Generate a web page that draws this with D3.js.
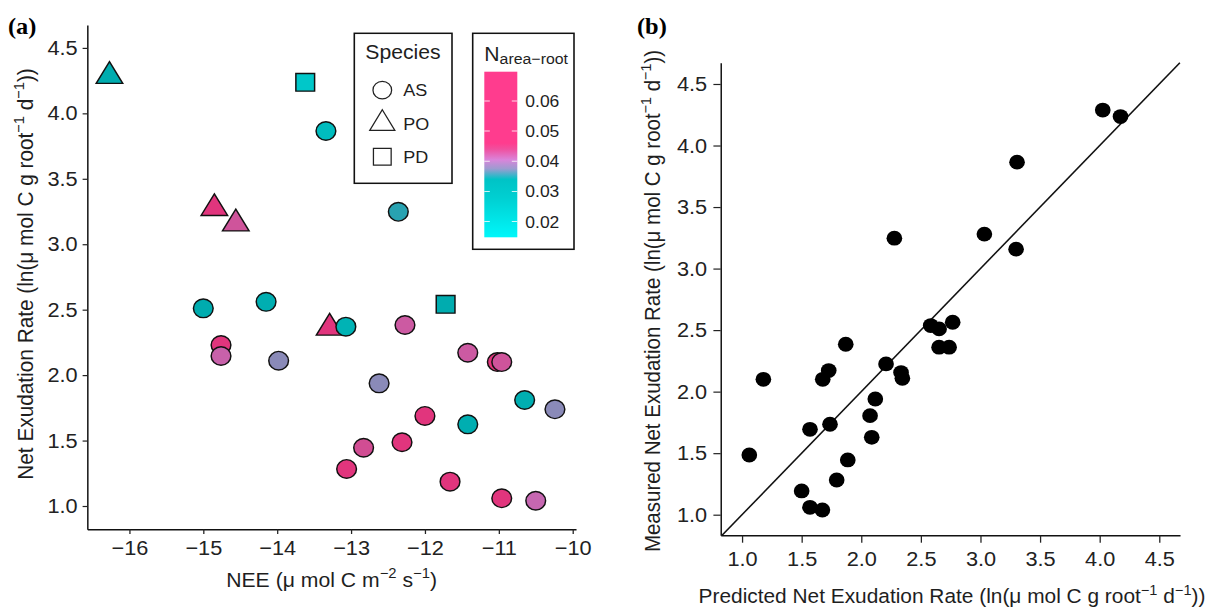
<!DOCTYPE html>
<html>
<head>
<meta charset="utf-8">
<script src="https://cdn.jsdelivr.net/npm/d3@7"></script>
<style>
  body { margin: 0; background: #fff; }
  svg text { font-family: "Liberation Sans", Arial, sans-serif; fill: #1e1e1e; }
</style>
</head>
<body>
<svg id="fig" width="1215" height="611"></svg>
<script>
// ---- panel (a) data : NEE vs net exudation, shape = species, fill = N area-root
const speciesA = ['PO','PO','PO','PO','PD','PD',
  'AS','AS','AS','AS','AS','AS','AS','AS','AS','AS','AS','AS','AS','AS','AS','AS','AS','AS','AS','AS','AS','AS','AS'];
const neeA = [-16.27, -14.85, -14.56, -13.29, -13.62, -11.72,
  -13.34, -12.36, -15.0, -14.15, -14.76, -14.76, -13.98, -13.07, -12.27, -11.42, -11.02, -10.96,
  -12.62, -10.65, -10.24, -12.0, -11.42, -12.83, -12.31, -13.06, -11.66, -10.96, -10.5];
const exudA = [4.284, 3.275, 3.157, 2.361, 4.237, 2.541,
  3.865, 3.248, 2.51, 2.56, 2.23, 2.146, 2.11, 2.37, 2.383, 2.171, 2.10, 2.10,
  1.937, 1.81, 1.739, 1.688, 1.624, 1.445, 1.487, 1.283, 1.186, 1.059, 1.04];
const nAreaRoot = [0.034, 0.055, 0.043, 0.058, 0.022, 0.034,
  0.026, 0.035, 0.034, 0.033, 0.052, 0.042, 0.0375, 0.030, 0.0425, 0.0425, 0.060, 0.043,
  0.0375, 0.033, 0.0375, 0.058, 0.033, 0.0435, 0.060, 0.062, 0.060, 0.058, 0.0415];

const speciesLevels = ['AS', 'PO', 'PD'];
const nTicks = [0.02, 0.03, 0.04, 0.05, 0.06];
const nRange = [0.0148, 0.0697];
const xTicksA = [-16, -15, -14, -13, -12, -11, -10];
const yTicks = [1.0, 1.5, 2.0, 2.5, 3.0, 3.5, 4.0, 4.5];

// ---- panel (b) data : predicted vs measured
const predicted = [1.061, 1.179, 1.57, 1.50, 1.57, 1.674, 1.677, 1.727, 1.738, 1.794, 1.87, 1.887,
  2.074, 2.088, 2.118, 2.208, 2.334, 2.345, 2.583, 2.653, 2.767, 2.653, 2.737,
  2.278, 3.033, 3.299, 3.307, 4.026, 4.175];
const measured = [1.485, 2.10, 1.694, 1.193, 1.06, 1.038, 2.10, 2.171, 1.735, 1.282, 2.385, 1.445,
  1.805, 1.629, 1.94, 2.225, 2.155, 2.109, 2.537, 2.51, 2.564, 2.361, 2.361,
  3.247, 3.28, 3.158, 3.865, 4.288, 4.235];
const xTicksB = [1.0, 1.5, 2.0, 2.5, 3.0, 3.5, 4.0, 4.5];

// colour ramp of the N legend
const rampValues = [0.0148, 0.028, 0.034, 0.0375, 0.0405, 0.044, 0.046, 0.0697];
const rampColours = ['#00f7fa', '#00cfd1', '#00c3c6', '#9c9cd0', '#da84da', '#f0509f', '#ff3c8e', '#ff3c8e'];
const nColour = d3.scaleLinear().domain(rampValues).range(rampColours).interpolate(d3.interpolateRgb);

// the figure is slightly wider than tall, stretch everything horizontally
const K = 1.06;
const px = v => v / K;

const svg = d3.select('#fig');
const g = svg.append('g').attr('transform', 'scale(' + K + ',1)');

function richText(sel, parts, size) {
  var shift = 0;
  parts.forEach(p => {
    var t = sel.append('tspan').text(p.t);
    if (p.sup) {
      t.attr('font-size', size * 0.7).attr('dy', -size * 0.42 - shift);
      shift = -size * 0.42;
    } else {
      t.attr('font-size', size).attr('dy', -shift);
      shift = 0;
    }
  });
}

const ylabParts = [{t: 'ln(μ mol C g root'}, {t: '−1', sup: true}, {t: ' d'}, {t: '−1', sup: true}, {t: '))'}];

// ================= panel (a) =================
const xA = d3.scaleLinear().domain([-16.57, -9.955]).range([px(87.3), px(576)]);
const yA = d3.scaleLinear().domain([0.822, 4.675]).range([529.3, 25]);

g.append('g')
  .attr('class', 'axis')
  .attr('transform', 'translate(0,529.3)')
  .call(d3.axisBottom(xA).tickValues(xTicksA).tickSize(4.7).tickSizeOuter(0).tickPadding(6.5).tickFormat(d3.format('d')));

g.append('g')
  .attr('class', 'axis')
  .attr('transform', 'translate(' + px(87.3) + ',0)')
  .call(d3.axisLeft(yA).tickValues(yTicks).tickSize(px(4.7)).tickSizeOuter(0).tickPadding(px(5)).tickFormat(d3.format('.1f')));

const ptsA = neeA.map((v, i) => ({x: v, y: exudA[i], s: speciesA[i], n: nAreaRoot[i]}));
const R = 9.3;
const triPath = r => {
  const top = r * 1.555, half = r * 1.347, bot = r * 0.7776;
  return 'M0,' + (-top) + 'L' + half + ',' + bot + 'L' + (-half) + ',' + bot + 'Z';
};
const shapePath = (s, r) => {
  if (s === 'PO') return triPath(r);
  if (s === 'PD') { const h = r * 0.95; return 'M' + (-h) + ',' + (-h) + 'h' + 2 * h + 'v' + 2 * h + 'h' + (-2 * h) + 'Z'; }
  return d3.symbol().type(d3.symbolCircle).size(Math.PI * r * r)();
};

g.append('g').selectAll('path')
  .data(ptsA)
  .enter()
  .append('path')
  .attr('transform', d => 'translate(' + xA(d.x) + ',' + yA(d.y) + ')')
  .attr('d', d => shapePath(d.s, R))
  .style('fill', d => d3.color(nColour(d.n)).darker(0.35))
  .style('stroke', '#111')
  .style('stroke-width', 1.4);

// axis titles
richText(g.append('text')
  .attr('transform', 'translate(' + px(331.6) + ',586.7)')
  .attr('text-anchor', 'middle'),
  [{t: 'NEE (μ mol C m'}, {t: '−2', sup: true}, {t: ' s'}, {t: '−1', sup: true}, {t: ')'}], 20);

richText(g.append('text')
  .attr('transform', 'translate(' + px(33.3) + ',274) rotate(-90)')
  .attr('text-anchor', 'middle'),
  [{t: 'Net Exudation Rate ('}].concat(ylabParts), 20.8);

g.append('text')
  .attr('x', px(8)).attr('y', 34)
  .style('font-family', '"Liberation Serif", "Times New Roman", serif')
  .style('font-weight', 'bold').style('font-size', '23px').style('fill', '#000')
  .text('(a)');

// species legend
const leg = g.append('g');
leg.append('rect')
  .attr('x', px(354.3)).attr('y', 33.3)
  .attr('width', px(452) - px(354.3)).attr('height', 150)
  .style('fill', '#fff').style('stroke', '#111').style('stroke-width', 1.5);
leg.append('text')
  .attr('x', px(403)).attr('y', 59.5)
  .attr('text-anchor', 'middle').style('font-size', '20px')
  .text('Species');
const legY = d3.scaleBand().domain(speciesLevels).range([73.5, 173.5]);
const legItem = leg.selectAll('.item')
  .data(speciesLevels)
  .enter()
  .append('g')
  .attr('class', 'item')
  .attr('transform', d => 'translate(0,' + (legY(d) + legY.bandwidth() / 2) + ')');
legItem.append('path')
  .attr('transform', 'translate(' + px(382.3) + ',' + 0 + ')')
  .attr('d', d => shapePath(d, 8.8))
  .style('fill', '#fff').style('stroke', '#222').style('stroke-width', 1.2);
legItem.append('text')
  .attr('x', px(403.3)).attr('dy', '0.36em')
  .style('font-size', '17px')
  .text(d => d);

// N area-root colour bar legend
const cb = g.append('g');
cb.append('rect')
  .attr('x', px(472.7)).attr('y', 33.3)
  .attr('width', px(574) - px(472.7)).attr('height', 216)
  .style('fill', '#fff').style('stroke', '#111').style('stroke-width', 1.5);
const cbTitle = cb.append('text').attr('x', px(484.3)).attr('y', 60.7);
cbTitle.append('tspan').style('font-size', '20px').text('N');
cbTitle.append('tspan').style('font-size', '15px').attr('dy', 3.5).text('area−root');

const nBar = d3.scaleLinear().domain(nRange).range([237.3, 71.7]);
const grad = svg.append('defs').append('linearGradient')
  .attr('id', 'nGrad')
  .attr('x1', '0%').attr('y1', '100%').attr('x2', '0%').attr('y2', '0%');
rampValues.forEach((v, i) => {
  grad.append('stop')
    .attr('offset', ((v - nRange[0]) / (nRange[1] - nRange[0]) * 100) + '%')
    .attr('stop-color', rampColours[i]);
});
cb.append('rect')
  .attr('x', px(484.3)).attr('y', nBar(nRange[1]))
  .attr('width', px(517.3) - px(484.3)).attr('height', nBar(nRange[0]) - nBar(nRange[1]))
  .style('fill', 'url(#nGrad)');
cb.selectAll('.bartick')
  .data(nTicks)
  .enter()
  .append('path')
  .attr('class', 'bartick')
  .attr('d', d => 'M' + px(484.3) + ',' + nBar(d) + 'h' + px(5.5) + 'M' + px(517.3) + ',' + nBar(d) + 'h' + (-px(5.5)))
  .style('stroke', '#fff').style('stroke-opacity', 0.8).style('stroke-width', 1);
cb.selectAll('.barlabel')
  .data(nTicks)
  .enter()
  .append('text')
  .attr('x', px(525.3)).attr('y', d => nBar(d)).attr('dy', '0.36em')
  .style('font-size', '16.5px')
  .text(d3.format('.2f'));

// ================= panel (b) =================
const xB = d3.scaleLinear().domain([0.821, 4.674]).range([px(720.7), px(1180)]);
const yB = d3.scaleLinear().domain([0.8326, 4.673]).range([535.3, 62.7]);

g.append('g')
  .attr('class', 'axis')
  .attr('transform', 'translate(0,535.3)')
  .call(d3.axisBottom(xB).tickValues(xTicksB).tickSize(7.4).tickSizeOuter(0).tickPadding(8.5).tickFormat(d3.format('.1f')));

g.append('g')
  .attr('class', 'axis')
  .attr('transform', 'translate(' + px(720.7) + ',0)')
  .call(d3.axisLeft(yB).tickValues(yTicks).tickSize(px(7.3)).tickSizeOuter(0).tickPadding(px(6.3)).tickFormat(d3.format('.1f')));

// 1:1 line
const lim = [0.8326, 4.673];
g.append('path')
  .datum(lim)
  .attr('d', d3.line().x(d => xB(d)).y(d => yB(d)))
  .style('fill', 'none').style('stroke', '#111').style('stroke-width', 1.5);

g.append('g').selectAll('circle')
  .data(predicted.map((v, i) => [v, measured[i]]))
  .enter()
  .append('circle')
  .attr('cx', d => xB(d[0]))
  .attr('cy', d => yB(d[1]))
  .attr('r', 7.4)
  .style('fill', '#000');

richText(g.append('text')
  .attr('transform', 'translate(' + px(952) + ',603.3)')
  .attr('text-anchor', 'middle'),
  [{t: 'Predicted Net Exudation Rate ('}].concat(ylabParts), 19.7);

richText(g.append('text')
  .attr('transform', 'translate(' + px(660) + ',301) rotate(-90)')
  .attr('text-anchor', 'middle'),
  [{t: 'Measured Net Exudation Rate ('}].concat(ylabParts), 20.5);

g.append('text')
  .attr('x', px(637)).attr('y', 34)
  .style('font-family', '"Liberation Serif", "Times New Roman", serif')
  .style('font-weight', 'bold').style('font-size', '23px').style('fill', '#000')
  .text('(b)');

// axis styling
g.selectAll('.axis .domain').style('stroke', '#111').style('stroke-width', 1.4);
g.selectAll('.axis .tick line').style('stroke', '#222').style('stroke-width', 1.2);
g.selectAll('.axis .tick text').style('font-size', '20.5px').style('fill', '#222')
  .style('font-family', '"Liberation Sans", Arial, sans-serif');
</script>
</body>
</html>
